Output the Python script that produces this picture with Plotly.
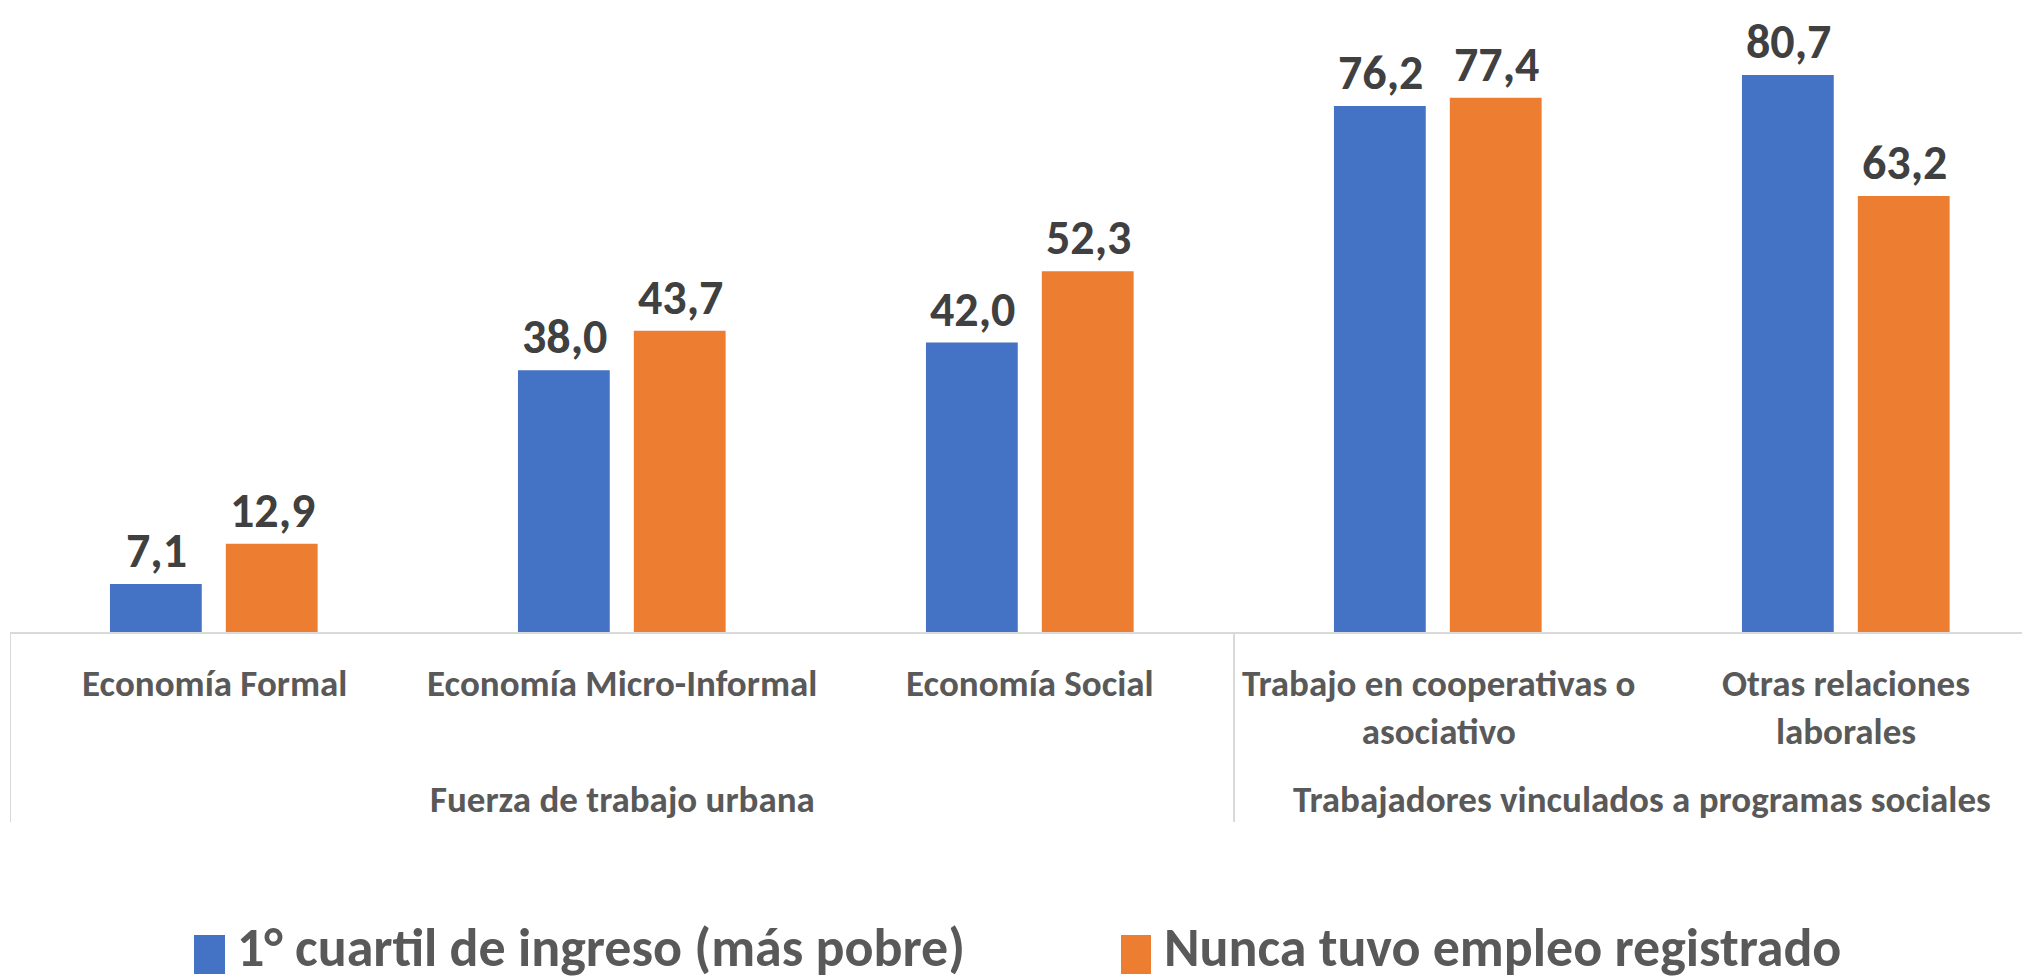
import plotly.graph_objects as go

categories = ["Economía Formal", "Economía Micro-Informal", "Economía Social",
              "Trabajo en cooperativas o asociativo", "Otras relaciones laborales"]
tick_labels = ["Economía Formal", "Economía Micro-Informal", "Economía Social",
               "Trabajo en cooperativas o<br>asociativo", "Otras relaciones<br>laborales"]
groups = ["Fuerza de trabajo urbana", "Trabajadores vinculados a programas sociales"]
series_names = ["1° cuartil de ingreso (más pobre)", "Nunca tuvo empleo registrado"]
cuartil = [7.1, 38.0, 42.0, 76.2, 80.7]
nunca = [12.9, 43.7, 52.3, 77.4, 63.2]

BLUE = "#4472C4"
ORANGE = "#ED7D31"
FONT = "Carlito, Lato, sans-serif"
W, H = 2030, 979
PAGE_OFF = 8          # body margin of the html page
LEFT = 10 - PAGE_OFF  # plot area left edge in figure px
BASE = 633 - PAGE_OFF # baseline in figure px
PLOT_W = W - LEFT

def py(page_y):
    # page pixel row -> paper y
    return (BASE - (page_y - PAGE_OFF)) / BASE

def px(page_x):
    # page pixel column -> paper x
    return (page_x - PAGE_OFF - LEFT) / PLOT_W

fig = go.Figure()

for vals, name, color, off, shift in [(cuartil, series_names[0], BLUE, -0.255, -58),
                                      (nunca, series_names[1], ORANGE, 0.029, 58)]:
    fig.add_trace(go.Bar(
        x=categories, y=vals, name=name,
        marker_color=color, marker_line_width=0,
        width=0.225, offset=off, showlegend=False,
    ))
    for c, v in zip(categories, vals):
        fig.add_annotation(
            x=c, y=v, text=f"{v:.1f}".replace(".", ","), showarrow=False,
            xshift=shift, yanchor="bottom", yshift=2,
            font=dict(family=FONT, size=48, color="#404040", weight="bold"),
        )

# category labels
for c, t in zip(categories, tick_labels):
    fig.add_annotation(
        x=c, y=py(659), yref="paper", text=t, showarrow=False, yanchor="top",
        font=dict(family=FONT, size=37, color="#595959", weight="bold"),
    )

# group labels
for xg, g in zip([1, 3.5], groups):
    fig.add_annotation(
        x=xg, y=py(800), yref="paper", text=g, showarrow=False, yanchor="middle",
        font=dict(family=FONT, size=37, color="#595959", weight="bold"),
    )

# axis line and dividers
grid = "#D9D9D9"
fig.add_shape(type="line", xref="paper", yref="paper", x0=0, x1=1, y0=0, y1=0,
              line=dict(color=grid, width=2))
for xd in [-0.5, 2.5]:
    fig.add_shape(type="line", xref="x", yref="paper", x0=xd, x1=xd,
                  y0=0, y1=py(822), line=dict(color=grid, width=2))

# legend drawn by hand
for (x0, x1, tx), name, color in [((194, 225, 235), series_names[0], BLUE),
                                  ((1121, 1151, 1162), series_names[1], ORANGE)]:
    fig.add_shape(type="rect", xref="paper", yref="paper",
                  x0=px(x0), x1=px(x1), y0=py(974), y1=py(935),
                  fillcolor=color, line_width=0)
    fig.add_annotation(
        x=px(tx), y=py(948), xref="paper", yref="paper", text=name,
        showarrow=False, xanchor="left", yanchor="middle",
        font=dict(family=FONT, size=54, color="#595959", weight="bold"),
    )

fig.update_layout(
    width=W, height=H,
    margin=dict(l=LEFT, r=0, t=0, b=H - BASE, pad=0),
    plot_bgcolor="white", paper_bgcolor="white",
    barmode="overlay",
    xaxis=dict(type="category", range=[-0.5, -0.5 + PLOT_W / 408],
               showticklabels=False, showgrid=False, zeroline=False, showline=False),
    yaxis=dict(range=[0, BASE / 6.915], visible=False, showgrid=False, zeroline=False),
)

fig.write_html("out.html")
